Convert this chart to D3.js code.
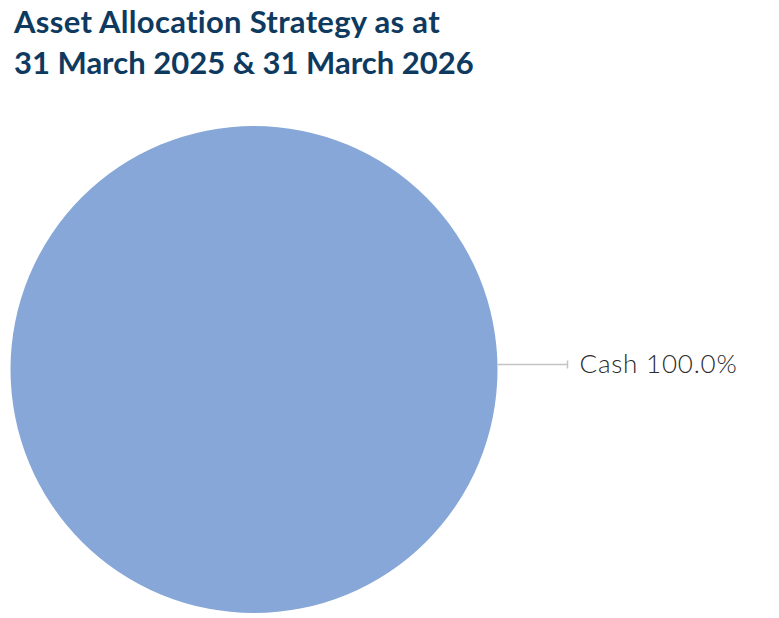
<!DOCTYPE html>
<html>
<head>
<meta charset="utf-8">
<script src="https://cdn.jsdelivr.net/npm/d3@7"></script>
<style>
  html, body { margin: 0; padding: 0; background: #fff; }
  svg { display: block; }
</style>
</head>
<body>
<div id="chart"></div>
<script>
'use strict';

var titleLines = ['Asset Allocation Strategy as at', '31 March 2025 & 31 March 2026'];
var categories = ['Cash'];
var values = [100.0];
var colours = ['#86a7d7'];

var width = 779, height = 618;
var cx = 254, cy = 369.5, radius = 243.5;

var svg = d3.select('#chart')
	.append('svg')
	.attr('width', width)
	.attr('height', height);

// title
svg.append('g')
	.selectAll('text')
	.data(titleLines)
	.enter()
	.append('text')
	.attr('x', 14)
	.attr('y', function(d, i) { return 33 + i * 41; })
	.attr('fill', '#0e3a60')
	.style('font-family', 'Lato, "Open Sans", sans-serif')
	.style('font-weight', 700)
	.style('font-size', '31px')
	.style('letter-spacing', function(d, i) { return i === 0 ? '0.3px' : '0px'; })
	.text(function(d) { return d; });

var slices = categories.map(function(c, i) { return { name: c, value: values[i], colour: colours[i] }; });

var pie = d3.pie().sort(null).value(function(d) { return d.value; });
var arc = d3.arc().innerRadius(0).outerRadius(radius);

var g = svg.append('g').attr('transform', 'translate(' + cx + ',' + cy + ')');

var arcs = pie(slices);

g.selectAll('path')
	.data(arcs)
	.enter()
	.append('path')
	.attr('d', arc)
	.attr('fill', function(d) { return d.data.colour; });

// label with leader line (single slice sits at the right-hand side)
arcs.forEach(function(d) {
	var y = -5;
	var x0 = radius, x1 = radius + 70;
	g.append('line')
		.attr('x1', x0).attr('y1', y).attr('x2', x1).attr('y2', y)
		.attr('stroke', '#c4c4c4').attr('stroke-width', 1.5);
	g.append('line')
		.attr('x1', x1).attr('y1', y - 4).attr('x2', x1).attr('y2', y + 4)
		.attr('stroke', '#c4c4c4').attr('stroke-width', 1.5);
	g.append('text')
		.attr('x', x1 + 12)
		.attr('y', y + 8)
		.attr('fill', '#2b2b2b')
		.style('font-family', 'Lato, "Open Sans", sans-serif')
		.style('font-weight', 300)
		.style('font-size', '26px')
		.style('letter-spacing', '0.8px')
		.text(d.data.name + ' ' + d.data.value.toFixed(1) + '%');
});
</script>
</body>
</html>
